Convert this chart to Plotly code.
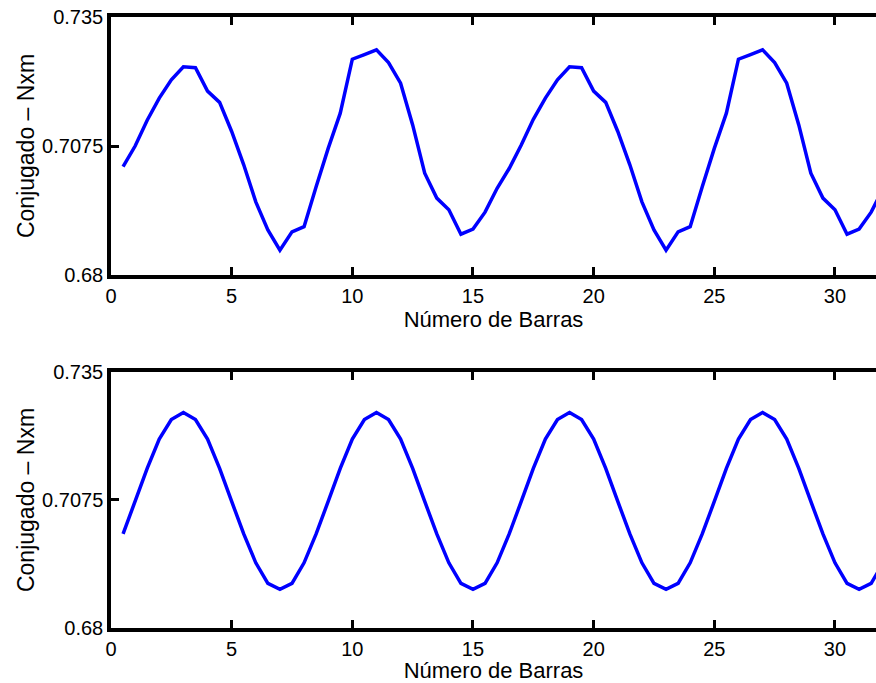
import plotly.graph_objects as go
from plotly.subplots import make_subplots

# Bar number (x positions, half-bar spacing)
barras = [0.5, 1.0, 1.5, 2.0, 2.5, 3.0, 3.5, 4.0, 4.5, 5.0, 5.5, 6.0, 6.5, 7.0, 7.5, 8.0,
          8.5, 9.0, 9.5, 10.0, 10.5, 11.0, 11.5, 12.0, 12.5, 13.0, 13.5, 14.0, 14.5, 15.0, 15.5, 16.0,
          16.5, 17.0, 17.5, 18.0, 18.5, 19.0, 19.5, 20.0, 20.5, 21.0, 21.5, 22.0, 22.5, 23.0, 23.5, 24.0,
          24.5, 25.0, 25.5, 26.0, 26.5, 27.0, 27.5, 28.0, 28.5, 29.0, 29.5, 30.0, 30.5, 31.0, 31.5, 32.0]

# Torque (Nxm), upper panel
conjugado_sup = [0.7031, 0.7075, 0.7130, 0.7177, 0.7216, 0.7244, 0.7242, 0.7192,
                 0.7168, 0.7106, 0.7035, 0.6956, 0.6896, 0.6853, 0.6892, 0.6903,
                 0.6988, 0.7070, 0.7145, 0.7260, 0.7270, 0.7280, 0.7253, 0.7209,
                 0.7120, 0.7017, 0.6964, 0.6939, 0.6887, 0.6898, 0.6934, 0.6985,
                 0.7027, 0.7077, 0.7132, 0.7177, 0.7216, 0.7244, 0.7242, 0.7192,
                 0.7168, 0.7106, 0.7035, 0.6956, 0.6896, 0.6853, 0.6892, 0.6903,
                 0.6988, 0.7070, 0.7145, 0.7260, 0.7270, 0.7280, 0.7253, 0.7209,
                 0.7120, 0.7017, 0.6964, 0.6939, 0.6887, 0.6898, 0.6934, 0.6985]

# Torque (Nxm), lower panel
conjugado_inf = [0.7002, 0.7072, 0.7143, 0.7206, 0.7248, 0.7263, 0.7248, 0.7206,
                 0.7143, 0.7072, 0.7002, 0.6940, 0.6896, 0.6883, 0.6896, 0.6940,
                 0.7002, 0.7072, 0.7143, 0.7206, 0.7248, 0.7263, 0.7248, 0.7206,
                 0.7143, 0.7072, 0.7002, 0.6940, 0.6896, 0.6883, 0.6896, 0.6940,
                 0.7002, 0.7072, 0.7143, 0.7206, 0.7248, 0.7263, 0.7248, 0.7206,
                 0.7143, 0.7072, 0.7002, 0.6940, 0.6896, 0.6883, 0.6896, 0.6940,
                 0.7002, 0.7072, 0.7143, 0.7206, 0.7248, 0.7263, 0.7248, 0.7206,
                 0.7143, 0.7072, 0.7002, 0.6940, 0.6896, 0.6883, 0.6896, 0.6940]

x_ticks = [0, 5, 10, 15, 20, 25, 30]
y_ticks = [0.68, 0.7075, 0.735]
y_tick_text = ["0.68", "0.7075", "0.735"]

FONT = "Liberation Sans, Arial, Helvetica, sans-serif"

fig = make_subplots(rows=2, cols=1, vertical_spacing=0.0)

fig.add_trace(go.Scatter(x=barras, y=conjugado_sup, mode="lines",
                         line=dict(color="#0000FF", width=3.5), showlegend=False),
              row=1, col=1)
fig.add_trace(go.Scatter(x=barras, y=conjugado_inf, mode="lines",
                         line=dict(color="#0000FF", width=3.5), showlegend=False),
              row=2, col=1)

xaxis_style = dict(
    range=[0, 31.7], tickvals=x_ticks, ticks="inside", ticklen=8, tickwidth=3,
    tickcolor="black", showline=True, linecolor="black", linewidth=3.5,
    mirror="ticks", showgrid=False, zeroline=False,
    tickfont=dict(family=FONT, size=20, color="black"),
    title=dict(text="Número de Barras", font=dict(family=FONT, size=22, color="black"),
               standoff=3),
)
yaxis_style = dict(
    range=[0.68, 0.735], tickvals=y_ticks, ticktext=y_tick_text, ticks="inside",
    ticklen=8, tickwidth=3, tickcolor="black", showline=True, linecolor="black",
    linewidth=3.5, mirror=False, showgrid=False, zeroline=False,
    tickfont=dict(family=FONT, size=20, color="black"),
    title=dict(text="Conjugado – Nxm", font=dict(family=FONT, size=23, color="black"),
               standoff=2),
)

fig.update_xaxes(**xaxis_style)
fig.update_yaxes(**yaxis_style)

fig.update_layout(
    width=876, height=683,
    margin=dict(l=111, r=0, t=17, b=55),
    plot_bgcolor="white", paper_bgcolor="white",
    xaxis=dict(domain=[0, 1]), xaxis2=dict(domain=[0, 1]),
    yaxis=dict(domain=[0.5777, 1.0]),
    yaxis2=dict(domain=[0.0, 0.4190]),
)

fig.write_html("out.html")
